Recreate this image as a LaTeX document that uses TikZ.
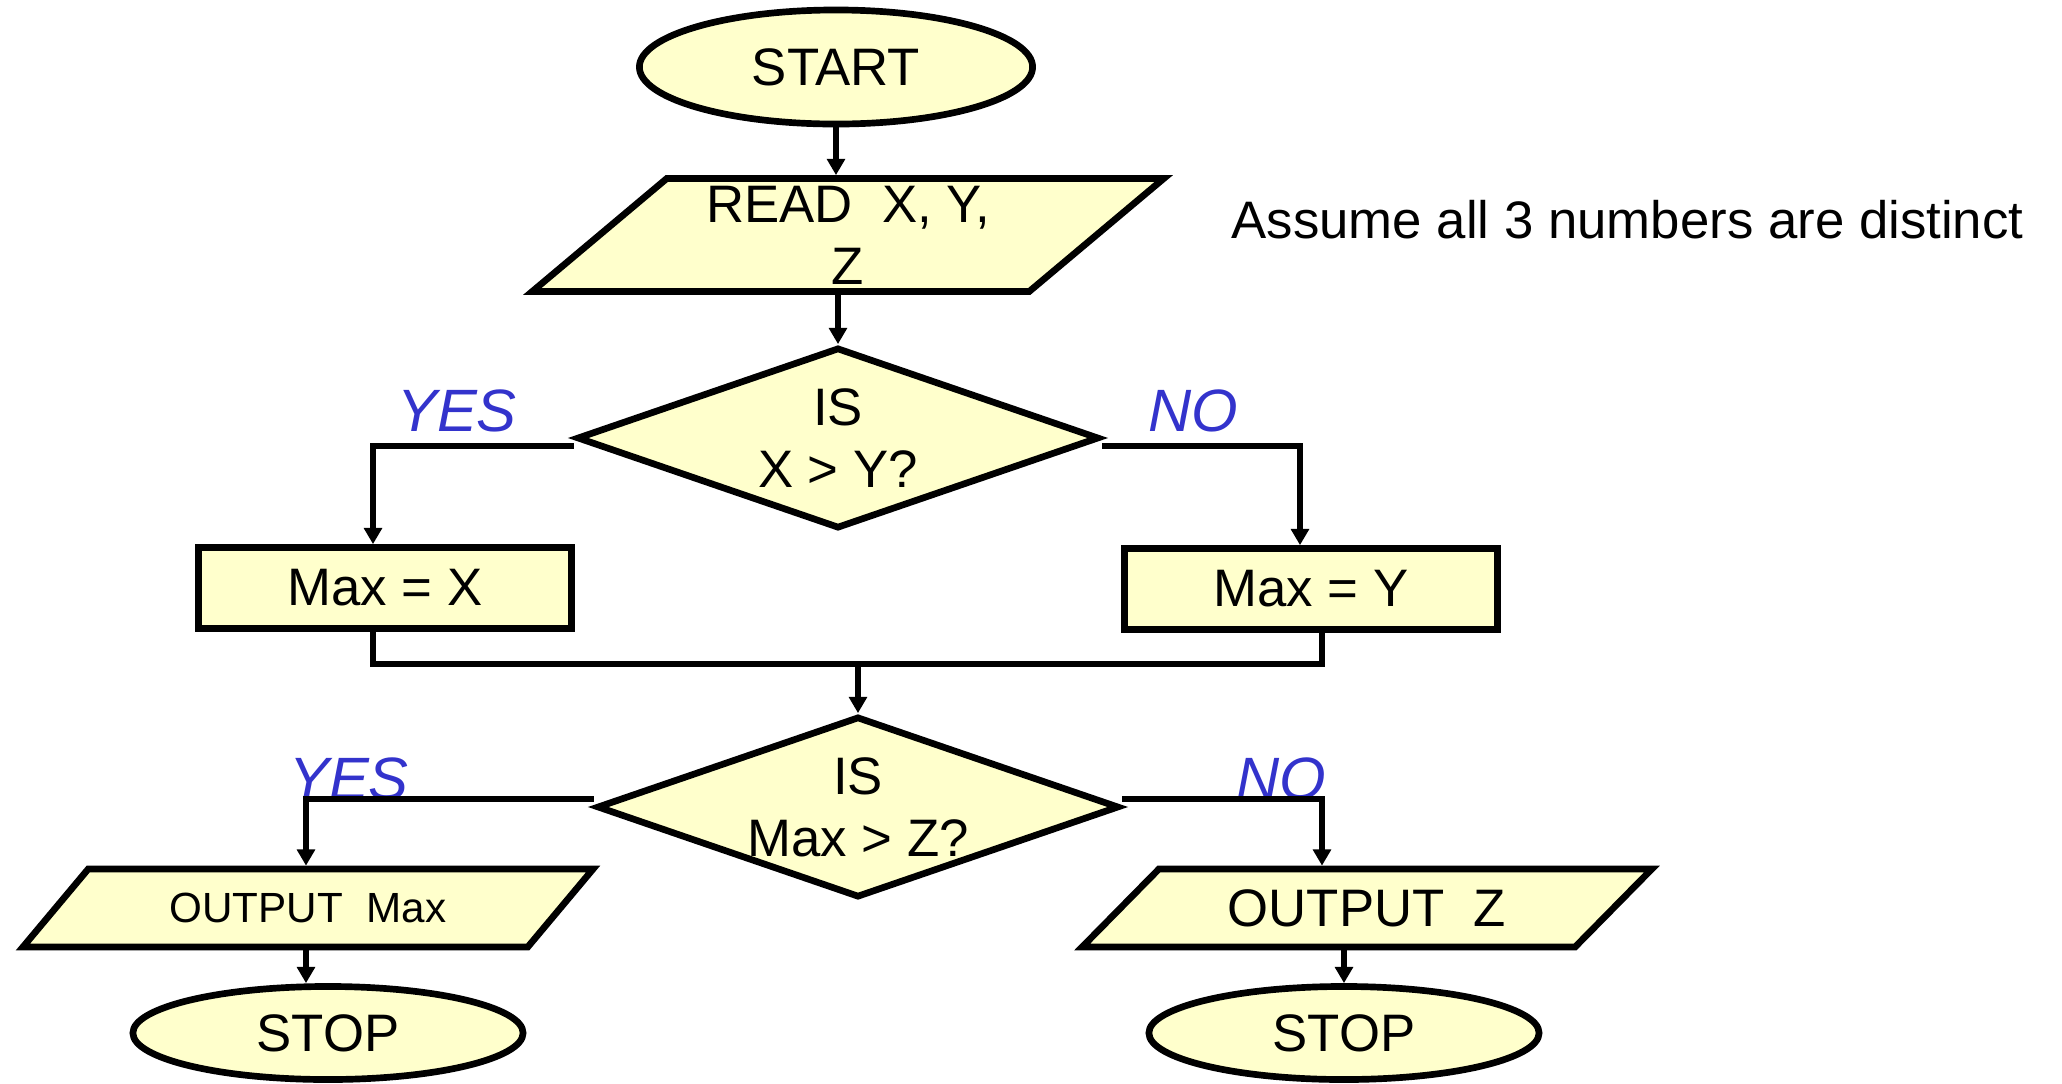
\documentclass[tikz,border=0pt]{standalone}
\usepackage{fontspec}
\setmainfont{Liberation Sans}
\usetikzlibrary{arrows.meta,shapes.geometric}
\definecolor{pale}{RGB}{255,255,204}
\definecolor{ansblue}{RGB}{51,51,204}
\tikzset{>={Triangle[length=4.6pt,width=5pt]},font=\fontsize{15}{17.6}\selectfont}
\tikzset{
term/.style={ellipse,draw,fill=pale,line width=1.9pt,inner sep=0pt},
io/.style={trapezium,trapezium stretches=true,draw,fill=pale,line width=1.9pt,inner sep=0pt,align=center,
  minimum width=5.7cm,minimum height=0.78cm,trapezium left angle=36,trapezium right angle=144},
proc/.style={rectangle,draw,fill=pale,line width=1.9pt,minimum width=3.73cm,minimum height=0.81cm},
test/.style={diamond,draw,fill=pale,line width=1.9pt,inner sep=0pt,aspect=2.9,align=center,
  minimum width=5.22cm,minimum height=1.81cm},
ans/.style={text=ansblue,font=\fontsize{17}{20}\selectfont\itshape,anchor=base},
wire/.style={line width=1.7pt}
}

\begin{document}
\begin{tikzpicture}[x=0.01cm,y=-0.01cm]
\useasboundingbox (0,0) rectangle (2062,1084);
\node (S) [term,minimum width=3.93cm,minimum height=1.14cm] at (836,67) {START};
\node (R) [io,minimum width=6.32cm,minimum height=1.13cm,trapezium left angle=43,trapezium right angle=137] at (848,235) {READ\ \ X, Y,\\Z};
\node (D1) [test] at (838,438) {IS\\X > Y?};
\node (MX) [proc] at (385,588) {Max = X};
\node (MY) [proc] at (1311,589) {Max = Y};
\node (D2) [test] at (858,807) {IS\\Max > Z?};
\node (O1) [io,font=\fontsize{12}{14}\selectfont] at (308,908) {OUTPUT\ \ Max};
\node (O2) [io] at (1367,908) {OUTPUT\ \ Z};
\node (E1) [term,minimum width=3.9cm,minimum height=0.93cm] at (328,1033) {STOP};
\node (E2) [term,minimum width=3.9cm,minimum height=0.93cm] at (1344,1033) {STOP};
\node (note) [anchor=base west,inner sep=0pt] at (1231,238) {Assume all 3 numbers are distinct};
\node (Y1) [ans] at (457,431) {YES};
\node (N1) [ans] at (1193,431) {NO};
\node (Y2) [ans] at (349,799) {YES};
\node (N2) [ans] at (1281,799) {NO};
% branch and merge points
\coordinate (yl) at (373,446);
\coordinate (nr) at (1300,446);
\coordinate (j) at (858,664);
\coordinate (mr) at (1322,664);
\coordinate (zl) at (306,799);
\coordinate (zr) at (1322,799);
\path[->,wire]
(S) edge (S |- R.north)
(D1 |- R.south) edge (D1.north)
(j) edge (D2.north)
(O1.south -| zl) edge (E1.north -| zl)
(O2.south -| E2) edge (E2.north)
;
\draw[->,wire] ([yshift=-0.08cm]D1.west) -| (MX.north -| yl);
\draw[->,wire] ([yshift=-0.08cm]D1.east) -| (MY.north -| nr);
\draw[wire] (MX.south -| yl) |- (j) -| (MY.south -| mr);
\draw[->,wire] ([yshift=0.08cm]D2.west) -| (O1.north -| zl);
\draw[->,wire] ([yshift=0.08cm]D2.east) -| (O2.north -| zr);
\end{tikzpicture}
\end{document}
